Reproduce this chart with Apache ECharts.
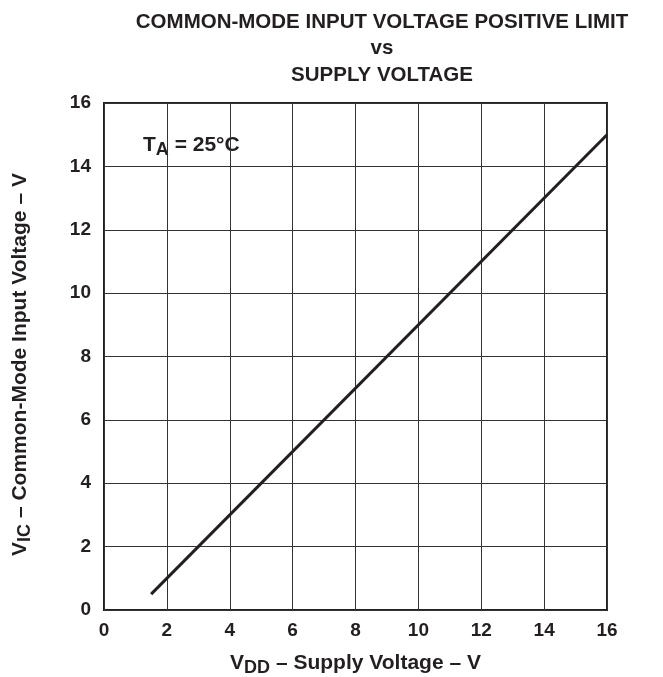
<!DOCTYPE html>
<html>
<head>
<meta charset="utf-8">
<script src="https://cdn.jsdelivr.net/npm/echarts@6/dist/echarts.min.js"></script>
<style>
  html, body { margin: 0; padding: 0; background: #fff; }
  #chart { width: 663px; height: 677px; }
</style>
</head>
<body>
<div id="chart"></div>
<script>
// data
const supplyVoltage = [1.5, 16]
const inputVoltage = [0.5, 15]
const xTicks = [0, 2, 4, 6, 8, 10, 12, 14, 16]
const yTicks = [0, 2, 4, 6, 8, 10, 12, 14, 16]

const FONT = 'Liberation Sans, Arial, sans-serif'
const INK = '#231f20'
const chart = echarts.init(document.getElementById('chart'))

const sub = { fontFamily: FONT, fontWeight: 'bold', fontSize: 18, padding: [9, 0, 0, 0], color: INK }
const main = { fontFamily: FONT, fontWeight: 'bold', fontSize: 21, color: INK }

chart.setOption({
  animation: false,
  title: {
    text: 'COMMON-MODE INPUT VOLTAGE POSITIVE LIMIT\nvs\nSUPPLY VOLTAGE',
    left: 377,
    top: 4,
    textAlign: 'center',
    textStyle: { fontFamily: FONT, fontWeight: 'bold', fontSize: 20.5, lineHeight: 26.5, color: INK },
  },
  grid: {
    left: 104, right: 56, top: 103, bottom: 67,
    outerBoundsMode: 'none',
    show: true, borderColor: INK, borderWidth: 2,
  },
  xAxis: {
    type: 'value',
    min: 0,
    max: 16,
    interval: 2,
    axisLine: { show: false },
    axisTick: { show: false },
    splitLine: { lineStyle: { color: '#333', width: 1 } },
    axisLabel: { margin: 11, fontFamily: FONT, fontWeight: 'bold', fontSize: 19, color: INK,
      formatter: (v) => (xTicks.includes(v) ? String(v) : '') },
    name: '{m|V}{s|DD}{m| – Supply Voltage – V}',
    nameLocation: 'middle',
    nameGap: 40,
    nameTextStyle: { rich: { m: main, s: sub } },
  },
  yAxis: {
    type: 'value',
    min: 0,
    max: 16,
    interval: 2,
    axisLine: { show: false },
    axisTick: { show: false },
    splitLine: { lineStyle: { color: '#333', width: 1 } },
    axisLabel: { margin: 13, fontFamily: FONT, fontWeight: 'bold', fontSize: 19, color: INK,
      formatter: (v) => (yTicks.includes(v) ? String(v) : '') },
    name: '{m|V}{s|IC}{m| – Common-Mode Input Voltage – V}',
    nameLocation: 'middle',
    nameGap: 70,
    nameTextStyle: { rich: { m: main, s: sub }, padding: [0, 16, 0, 0] },
  },
  graphic: [{
    type: 'text',
    left: 143,
    top: 135,
    style: {
      text: '{m|T}{s|A}{m| = 25°C}',
      rich: {
        m: { fontFamily: FONT, fontWeight: 'bold', fontSize: 21, fill: INK },
        s: { fontFamily: FONT, fontWeight: 'bold', fontSize: 18, fill: INK, padding: [9, 0, 0, 0] },
      },
    },
  }],
  series: [{
    type: 'line',
    data: supplyVoltage.map((x, i) => [x, inputVoltage[i]]),
    showSymbol: false,
    lineStyle: { color: INK, width: 3 },
  }],
})
</script>
</body>
</html>
